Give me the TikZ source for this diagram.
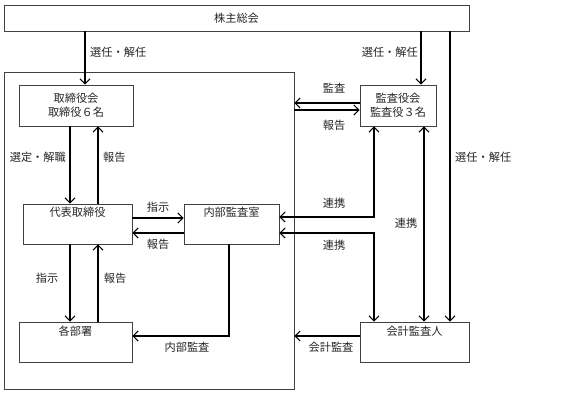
\documentclass[tikz,border=0pt]{standalone}
\usepackage{fontspec}
\newfontfamily\cjk{Noto Sans CJK JP}
\usetikzlibrary{arrows.meta}
\begin{document}
\begin{tikzpicture}[x=1pt,y=-1pt,
  font=\cjk\fontsize{11.2pt}{14.5pt}\selectfont,
  box/.style={draw=black!75,line width=0.9pt,rectangle,inner sep=0pt,text=black!85},
  lbl/.style={text=black!85,inner sep=0pt},
  arr/.style={line width=1.2pt,-{Straight Barb[length=5pt,width=10pt,line width=1pt]}},
  darr/.style={line width=1.2pt,{Straight Barb[length=5pt,width=10pt,line width=1pt]}-{Straight Barb[length=5pt,width=10pt,line width=1pt]}}]
\useasboundingbox (0,0) rectangle (576,394);
% boxes
\node[box,minimum width=465pt,minimum height=26pt] (sh) at (236.5,18) {株主総会};
\node[box,minimum width=290pt,minimum height=317pt] (grp) at (149,230.5) {};
\node[box,minimum width=114pt,minimum height=41pt,align=center] (tb) at (76,105.5) {取締役会\\取締役６名};
\node[box,minimum width=76pt,minimum height=41pt,align=center] (ka) at (398,105.5) {監査役会\\監査役３名};
\node[box,minimum width=109pt,minimum height=40pt,label={[lbl,anchor=north,yshift=-3pt]north:代表取締役}] (dh) at (77.5,224) {};
\node[box,minimum width=95pt,minimum height=40pt,label={[lbl,anchor=north,yshift=-3pt]north:内部監査室}] (nb) at (231.5,224) {};
\node[box,minimum width=113pt,minimum height=40pt,label={[lbl,anchor=north,yshift=-4pt]north:各部署}] (bs) at (75.5,342) {};
\node[box,minimum width=109pt,minimum height=40pt,label={[lbl,anchor=north,yshift=-4pt]north:会計監査人}] (kk) at (414.5,342) {};
% coordinates for bends
\coordinate (c1) at (374,217);
\coordinate (c2) at (374,233);
\coordinate (c3) at (229,336);
% connectors
\draw[arr] (sh.south -| 85,0) -- (tb.north -| 85,0);
\node[lbl,anchor=west] (l1) at (90,52) {選任・解任};
\draw[arr] (sh.south -| 421,0) -- (ka.north -| 421,0);
\node[lbl,anchor=east] (l2) at (418,52) {選任・解任};
\draw[arr] (sh.south -| 450,0) -- (kk.north -| 450,0);
\node[lbl,anchor=west] (l3) at (455,157) {選任・解任};
\draw[arr] (ka.west |- 0,103) -- (grp.east |- 0,103);
\node[lbl] (l4) at (334,88) {監査};
\draw[arr] (grp.east |- 0,110) -- (ka.west |- 0,110);
\node[lbl] (l5) at (334,125) {報告};
\draw[arr] (tb.south -| 70,0) -- (dh.north -| 70,0);
\node[lbl,anchor=east] (l6) at (66,157) {選定・解職};
\draw[arr] (dh.north -| 98,0) -- (tb.south -| 98,0);
\node[lbl,anchor=west] (l7) at (103,157) {報告};
\draw[arr] (dh.east |- 0,218) -- (nb.west |- 0,218);
\node[lbl] (l8) at (158,207) {指示};
\draw[arr] (nb.west |- 0,233) -- (dh.east |- 0,233);
\node[lbl] (l9) at (158,244) {報告};
\draw[darr] (ka.south -| c1) -- (c1) -- (nb.east |- c1);
\node[lbl] (l10) at (334,203) {連携};
\draw[darr] (nb.east |- c2) -- (c2) -- (kk.north -| c2);
\node[lbl] (l11) at (334,245) {連携};
\draw[darr] (ka.south -| 424,0) -- (kk.north -| 424,0);
\node[lbl] (l12) at (406,223) {連携};
\draw[arr] (dh.south -| 70,0) -- (bs.north -| 70,0);
\node[lbl] (l13) at (47,278) {指示};
\draw[arr] (bs.north -| 98,0) -- (dh.south -| 98,0);
\node[lbl] (l14) at (115,278) {報告};
\draw[arr] (nb.south -| c3) -- (c3) -- (bs.east |- c3);
\node[lbl] (l15) at (187,347) {内部監査};
\draw[arr] (kk.west |- 0,336) -- (grp.east |- 0,336);
\node[lbl] (l16) at (331,347) {会計監査};
\end{tikzpicture}
\end{document}
